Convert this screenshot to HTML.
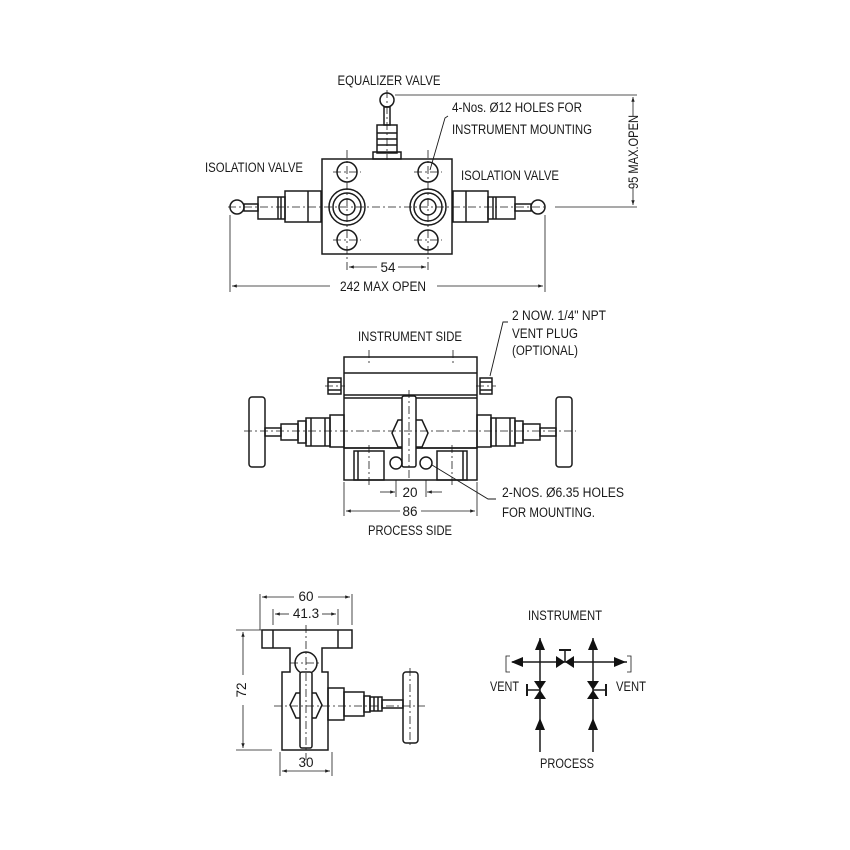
<!DOCTYPE html>
<html><head><meta charset="utf-8"><style>
html,body{margin:0;padding:0;background:#fff}
svg{display:block}
text{font-family:"Liberation Sans",sans-serif;font-size:13.5px;fill:#1a1a1a}
</style></head><body>
<svg width="850" height="850" viewBox="0 0 850 850" xmlns="http://www.w3.org/2000/svg">
<defs>
<marker id="a" viewBox="0 0 10 10" refX="10" refY="5" markerWidth="8" markerHeight="6" orient="auto-start-reverse"><path d="M0,1.5L10,5L0,8.5z" fill="#222"/></marker>
</defs>
<g fill="none" stroke="#1a1a1a" stroke-width="1.5">
<!-- ===== TOP VIEW ===== -->
<rect x="322" y="159" width="130" height="95"/>
<circle cx="387" cy="100" r="7"/>
<rect x="384" y="107" width="6" height="18"/>
<rect x="377" y="125" width="20" height="28"/>
<line x1="377" y1="133" x2="397" y2="133"/><line x1="377" y1="139" x2="397" y2="139"/><line x1="377" y1="145" x2="397" y2="145"/>
<rect x="373" y="152" width="28" height="7"/>
<circle cx="347" cy="172" r="10"/><circle cx="428" cy="172" r="10"/>
<circle cx="347" cy="240" r="10"/><circle cx="428" cy="240" r="10"/>
<circle cx="347" cy="207" r="18"/><circle cx="347" cy="207" r="14"/><circle cx="347" cy="207" r="8"/>
<circle cx="428" cy="207" r="18"/><circle cx="428" cy="207" r="14"/><circle cx="428" cy="207" r="8"/>
<rect x="285" y="191" width="36" height="31"/><line x1="308" y1="191" x2="308" y2="222"/>
<rect x="258" y="197" width="27" height="22"/><line x1="278" y1="197" x2="278" y2="219"/><line x1="281" y1="197" x2="281" y2="219"/>
<rect x="244" y="204" width="14" height="7"/><circle cx="237" cy="207" r="7"/>
<rect x="453" y="191" width="35" height="31"/><line x1="466" y1="191" x2="466" y2="222"/>
<rect x="488" y="197" width="27" height="22"/><line x1="493" y1="197" x2="493" y2="219"/><line x1="496" y1="197" x2="496" y2="219"/>
<rect x="515" y="204" width="16" height="7"/><circle cx="538" cy="207" r="7"/>
<g stroke-dasharray="8,3,2,3" stroke-width="0.8">
<line x1="228" y1="207" x2="548" y2="207"/>
<line x1="387" y1="90" x2="387" y2="160"/>
<line x1="347" y1="150" x2="347" y2="270"/><line x1="428" y1="150" x2="428" y2="270"/>
<line x1="333" y1="172" x2="361" y2="172"/><line x1="414" y1="172" x2="442" y2="172"/>
<line x1="333" y1="240" x2="361" y2="240"/><line x1="414" y1="240" x2="442" y2="240"/>
</g>
<line x1="230" y1="215" x2="230" y2="292" stroke-width="0.8"/>
<line x1="545" y1="215" x2="545" y2="292" stroke-width="0.8"/>
<line x1="349" y1="267" x2="377" y2="267" stroke-width="0.8" marker-start="url(#a)"/>
<line x1="398" y1="267" x2="426" y2="267" stroke-width="0.8" marker-end="url(#a)"/>
<line x1="232" y1="286" x2="330" y2="286" stroke-width="0.8" marker-start="url(#a)"/>
<line x1="437" y1="286" x2="543" y2="286" stroke-width="0.8" marker-end="url(#a)"/>
<line x1="395" y1="95" x2="637" y2="95" stroke-width="0.8"/>
<line x1="555" y1="207" x2="637" y2="207" stroke-width="0.8"/>
<line x1="633" y1="97" x2="633" y2="116" stroke-width="0.8" marker-start="url(#a)"/>
<line x1="633" y1="188" x2="633" y2="205" stroke-width="0.8" marker-end="url(#a)"/>
<polyline points="448,116 445,118 430,170" stroke-width="0.9"/>

<!-- ===== MIDDLE VIEW ===== -->
<rect x="344" y="357" width="133" height="91"/>
<line x1="344" y1="373" x2="477" y2="373"/>
<line x1="344" y1="395" x2="477" y2="395"/><line x1="344" y1="398" x2="477" y2="398"/>
<rect x="344" y="448" width="133" height="32"/>
<rect x="354" y="451" width="30" height="29"/><line x1="358" y1="451" x2="358" y2="480"/>
<rect x="437" y="451" width="30" height="29"/><line x1="463" y1="451" x2="463" y2="480"/>
<rect x="328" y="378" width="13" height="16"/><line x1="328" y1="382" x2="341" y2="382"/><line x1="328" y1="390" x2="341" y2="390"/>
<rect x="480" y="378" width="12" height="16"/><line x1="480" y1="382" x2="492" y2="382"/><line x1="480" y1="390" x2="492" y2="390"/>
<polygon points="398,420 422,420 428,433 422,447 398,447 392,433"/>
<rect x="402" y="396" width="14" height="71" rx="2" fill="#fff"/>
<circle cx="396" cy="463" r="6"/><circle cx="426" cy="463" r="6"/>
<rect x="330" y="415" width="14" height="32"/>
<rect x="306" y="418" width="24" height="28"/><line x1="311" y1="418" x2="311" y2="446"/><line x1="325" y1="418" x2="325" y2="446"/>
<rect x="298" y="421" width="8" height="22"/>
<rect x="281" y="424" width="17" height="16"/>
<rect x="265" y="428" width="16" height="8"/>
<rect x="249" y="397" width="16" height="70" rx="3"/>
<rect x="477" y="415" width="14" height="32"/>
<rect x="491" y="418" width="24" height="28"/><line x1="496" y1="418" x2="496" y2="446"/><line x1="510" y1="418" x2="510" y2="446"/>
<rect x="515" y="421" width="8" height="22"/>
<rect x="523" y="424" width="17" height="16"/>
<rect x="540" y="428" width="16" height="8"/>
<rect x="556" y="397" width="16" height="70" rx="3"/>
<g stroke-dasharray="8,3,2,3" stroke-width="0.8">
<line x1="244" y1="431" x2="576" y2="431"/>
<line x1="409" y1="390" x2="409" y2="478"/>
<line x1="369" y1="350" x2="369" y2="365"/><line x1="453" y1="350" x2="453" y2="365"/>
<line x1="369" y1="445" x2="369" y2="485"/><line x1="452" y1="445" x2="452" y2="485"/>
<line x1="325" y1="386" x2="345" y2="386"/><line x1="476" y1="386" x2="496" y2="386"/>
</g>
<line x1="344" y1="482" x2="344" y2="516" stroke-width="0.8"/><line x1="477" y1="482" x2="477" y2="516" stroke-width="0.8"/>
<line x1="396" y1="480" x2="396" y2="497" stroke-width="0.8"/><line x1="426" y1="480" x2="426" y2="497" stroke-width="0.8"/>
<line x1="380" y1="492" x2="395" y2="492" stroke-width="0.8" marker-end="url(#a)"/>
<line x1="442" y1="492" x2="427" y2="492" stroke-width="0.8" marker-end="url(#a)"/>
<line x1="346" y1="511" x2="400" y2="511" stroke-width="0.8" marker-start="url(#a)"/>
<line x1="421" y1="511" x2="475" y2="511" stroke-width="0.8" marker-end="url(#a)"/>
<polyline points="432,465 488,499 496,499" stroke-width="0.9"/>
<polyline points="508,322 503,322 490,376" stroke-width="0.9"/>

<!-- ===== BOTTOM LEFT VIEW ===== -->
<path d="M262,630 H352 V648 H322 V672 H328 V750 H282 V672 H290 V648 H262 Z"/>
<line x1="273" y1="630" x2="273" y2="648"/><line x1="338" y1="630" x2="338" y2="648"/>
<circle cx="306" cy="663" r="11"/>
<polygon points="296,693 316,693 322,705 316,718 296,718 290,705"/>
<rect x="300" y="672" width="12" height="76" rx="2" fill="#fff"/>
<rect x="328" y="688" width="16" height="32"/>
<rect x="344" y="692" width="20" height="24"/>
<rect x="364" y="696" width="6" height="16"/>
<rect x="370" y="697" width="12" height="14"/><line x1="374" y1="697" x2="374" y2="711"/><line x1="378" y1="697" x2="378" y2="711"/>
<rect x="382" y="700" width="21" height="8"/>
<rect x="403" y="672" width="15" height="71" rx="3"/>
<g stroke-dasharray="8,3,2,3" stroke-width="0.8">
<line x1="306" y1="625" x2="306" y2="760"/>
<line x1="274" y1="706" x2="425" y2="706"/>
<line x1="410" y1="668" x2="410" y2="748"/>
<line x1="290" y1="663" x2="322" y2="663"/>
</g>
<line x1="260" y1="594" x2="260" y2="630" stroke-width="0.8"/><line x1="352" y1="594" x2="352" y2="625" stroke-width="0.8"/>
<line x1="273" y1="609" x2="273" y2="625" stroke-width="0.8"/><line x1="338" y1="609" x2="338" y2="625" stroke-width="0.8"/>
<line x1="262" y1="597" x2="294" y2="597" stroke-width="0.8" marker-start="url(#a)"/>
<line x1="318" y1="597" x2="350" y2="597" stroke-width="0.8" marker-end="url(#a)"/>
<line x1="275" y1="614" x2="289" y2="614" stroke-width="0.8" marker-start="url(#a)"/>
<line x1="322" y1="614" x2="336" y2="614" stroke-width="0.8" marker-end="url(#a)"/>
<line x1="236" y1="630" x2="262" y2="630" stroke-width="0.8"/><line x1="236" y1="750" x2="272" y2="750" stroke-width="0.8"/>
<line x1="243" y1="632" x2="243" y2="675" stroke-width="0.8" marker-start="url(#a)"/>
<line x1="243" y1="705" x2="243" y2="748" stroke-width="0.8" marker-end="url(#a)"/>
<line x1="280" y1="752" x2="280" y2="776" stroke-width="0.8"/><line x1="332" y1="752" x2="332" y2="776" stroke-width="0.8"/>
<line x1="282" y1="771" x2="330" y2="771" stroke-width="0.8" marker-start="url(#a)" marker-end="url(#a)"/>

<!-- ===== SCHEMATIC ===== -->
<line x1="540" y1="638" x2="540" y2="752"/><line x1="593" y1="638" x2="593" y2="752"/>
<line x1="512" y1="662" x2="627" y2="662"/>
<polyline points="510,656 506,656 506,672 510,672" stroke-width="0.8"/>
<polyline points="627,656 631,656 631,672 627,672" stroke-width="0.8"/>
<line x1="565" y1="650" x2="565" y2="662"/><line x1="559" y1="650" x2="571" y2="650" stroke-width="2"/>
<line x1="527" y1="690" x2="540" y2="690"/><line x1="527" y1="684" x2="527" y2="696" stroke-width="2"/>
<line x1="593" y1="690" x2="606" y2="690"/><line x1="606" y1="684" x2="606" y2="696" stroke-width="2"/>
</g>
<g fill="#111">
<polygon points="540,638 535,650 545,650"/><polygon points="593,638 588,650 598,650"/>
<polygon points="511,662 523,657 523,667"/><polygon points="626,662 614,657 614,667"/>
<polygon points="565,662 556,656 556,668"/><polygon points="565,662 574,656 574,668"/>
<polygon points="540,690 534,681 546,681"/><polygon points="540,690 534,699 546,699"/>
<polygon points="593,690 587,681 599,681"/><polygon points="593,690 587,699 599,699"/>
<polygon points="540,718 535,730 545,730"/><polygon points="593,718 588,730 598,730"/>
</g>

<!-- ===== TEXT ===== -->
<text x="389" y="85" text-anchor="middle" textLength="103" lengthAdjust="spacingAndGlyphs">EQUALIZER VALVE</text>
<text x="452" y="112" textLength="130" lengthAdjust="spacingAndGlyphs">4-Nos. Ø12 HOLES FOR</text>
<text x="452" y="134" textLength="140" lengthAdjust="spacingAndGlyphs">INSTRUMENT MOUNTING</text>
<text x="205" y="172" textLength="98" lengthAdjust="spacingAndGlyphs">ISOLATION VALVE</text>
<text x="461" y="180" textLength="98" lengthAdjust="spacingAndGlyphs">ISOLATION VALVE</text>
<text x="388" y="272" text-anchor="middle">54</text>
<text x="383" y="291" text-anchor="middle" textLength="86" lengthAdjust="spacingAndGlyphs">242 MAX OPEN</text>
<text transform="translate(638,152) rotate(-90)" text-anchor="middle" textLength="74" lengthAdjust="spacingAndGlyphs">95 MAX.OPEN</text>
<text x="410" y="341" text-anchor="middle" textLength="104" lengthAdjust="spacingAndGlyphs">INSTRUMENT SIDE</text>
<text x="512" y="320" textLength="94" lengthAdjust="spacingAndGlyphs">2 NOW. 1/4" NPT</text>
<text x="512" y="338" textLength="66" lengthAdjust="spacingAndGlyphs">VENT PLUG</text>
<text x="512" y="355" textLength="66" lengthAdjust="spacingAndGlyphs">(OPTIONAL)</text>
<text x="410" y="497" text-anchor="middle">20</text>
<text x="410" y="516" text-anchor="middle">86</text>
<text x="410" y="535" text-anchor="middle" textLength="84" lengthAdjust="spacingAndGlyphs">PROCESS SIDE</text>
<text x="502" y="497" textLength="122" lengthAdjust="spacingAndGlyphs">2-NOS. Ø6.35  HOLES</text>
<text x="502" y="517" textLength="93" lengthAdjust="spacingAndGlyphs">FOR MOUNTING.</text>
<text x="306" y="601" text-anchor="middle">60</text>
<text x="306" y="618" text-anchor="middle">41.3</text>
<text transform="translate(246,690) rotate(-90)" text-anchor="middle">72</text>
<text x="306" y="767" text-anchor="middle">30</text>
<text x="565" y="620" text-anchor="middle" textLength="74" lengthAdjust="spacingAndGlyphs">INSTRUMENT</text>
<text x="490" y="691" textLength="29" lengthAdjust="spacingAndGlyphs">VENT</text>
<text x="616" y="691" textLength="30" lengthAdjust="spacingAndGlyphs">VENT</text>
<text x="567" y="768" text-anchor="middle" textLength="54" lengthAdjust="spacingAndGlyphs">PROCESS</text>
</svg>
</body></html>
